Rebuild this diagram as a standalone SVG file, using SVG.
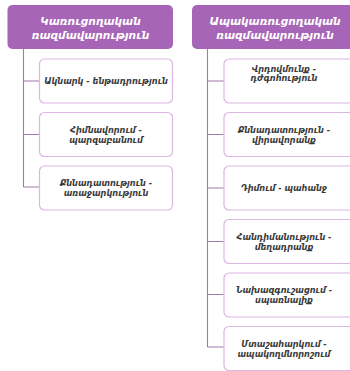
<svg xmlns="http://www.w3.org/2000/svg" width="350" height="371" viewBox="0 0 350 371">
<style>
.hdr{fill:#a665b6;}
.box{fill:#ffffff;stroke:#dcb6e2;stroke-width:1.2;}
.con{stroke:#a07aa8;stroke-width:1.1;fill:none;}
.ht{font-family:"DejaVu Sans",sans-serif;font-style:italic;font-weight:bold;font-size:10.6px;fill:#ffffff;text-anchor:middle;}
.bt{font-family:"DejaVu Sans",sans-serif;font-style:italic;font-weight:bold;font-size:8.2px;fill:#3a3a3a;text-anchor:middle;}
</style>
<rect width="350" height="371" fill="#ffffff"/>
<g id="connectors">
<path class="con" d="M23.5,49 V187 M23.5,81 H40 M23.5,134.5 H40 M23.5,187 H40"/>
<path class="con" d="M207.5,49 V347 M207.5,81 H224 M207.5,134.5 H224 M207.5,188 H224 M207.5,241.5 H224 M207.5,294.5 H224 M207.5,347 H224"/>
</g>
<g id="h1"><rect class="hdr" x="7.5" y="5" width="165.5" height="44" rx="5"/><text class="ht" x="90.5" y="24.5">Կառուցողական</text><text class="ht" x="90.5" y="39">ռազմավարություն</text></g>
<g id="h2"><rect class="hdr" x="192" y="5" width="166" height="44" rx="5"/><text class="ht" x="275" y="24.5">Ապակառուցողական</text><text class="ht" x="275" y="39">ռազմավարություն</text></g>
<g id="l1"><rect class="box" x="39.5" y="59" width="133" height="44" rx="5"/><text class="bt" x="106" y="84">Ակնարկ - ենթադրություն</text></g>
<g id="l2"><rect class="box" x="39.5" y="112.5" width="133" height="44" rx="5"/><text class="bt" x="106" y="132.5">Հիմնավորում -</text><text class="bt" x="106" y="142.5">պարզաբանում</text></g>
<g id="l3"><rect class="box" x="39.5" y="166" width="133" height="44" rx="5"/><text class="bt" x="106" y="186">Քննադատություն -</text><text class="bt" x="106" y="196">առաջարկություն</text></g>
<g id="r1"><rect class="box" x="224" y="59" width="132" height="44" rx="5"/><text class="bt" x="284" y="72">Վրդովմունք -</text><text class="bt" x="284" y="81">դժգոհություն</text></g>
<g id="r2"><rect class="box" x="224" y="112.5" width="132" height="44" rx="5"/><text class="bt" x="284" y="132.5">Քննադատություն -</text><text class="bt" x="284" y="142.5">վիրավորանք</text></g>
<g id="r3"><rect class="box" x="224" y="166" width="132" height="44" rx="5"/><text class="bt" x="284" y="191">Դիմում - պահանջ</text></g>
<g id="r4"><rect class="box" x="224" y="219.5" width="132" height="44" rx="5"/><text class="bt" x="284" y="239.5">Հանդիմանություն -</text><text class="bt" x="284" y="249.5">մեղադրանք</text></g>
<g id="r5"><rect class="box" x="224" y="273" width="132" height="44" rx="5"/><text class="bt" x="284" y="293">Նախազգուշացում -</text><text class="bt" x="284" y="303">սպառնալիք</text></g>
<g id="r6"><rect class="box" x="224" y="326.5" width="132" height="44" rx="5"/><text class="bt" x="284" y="346.5">Մտաշահարկում -</text><text class="bt" x="284" y="356.5">ապակողմնորոշում</text></g>
</svg>
